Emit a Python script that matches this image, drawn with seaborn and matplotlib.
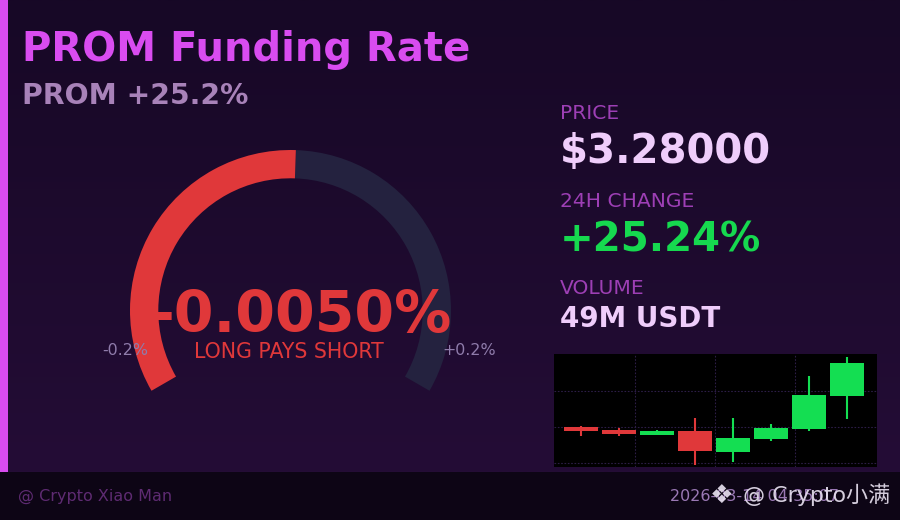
import numpy as np
import pandas as pd
import matplotlib
matplotlib.use("Agg")
import matplotlib.pyplot as plt
import seaborn as sns
from matplotlib.patches import Wedge, Rectangle
from matplotlib.colors import LinearSegmentedColormap

# ---------------- data ----------------
title_text = "PROM Funding Rate"
subtitle_text = "PROM +25.2%"
funding_rate_label = "-0.0050%"
funding_side = "LONG PAYS SHORT"
gauge_min_label = "-0.2%"
gauge_max_label = "+0.2%"
gauge_fill_share = 0.508          # share of the gauge arc that is filled
stat_labels = ["PRICE", "24H CHANGE", "VOLUME"]
stat_values = ["$3.28000", "+25.24%", "49M USDT"]

candle_open = [2.600, 2.567, 2.515, 2.556, 2.326, 2.470, 2.581, 2.948]
candle_close = [2.559, 2.526, 2.556, 2.337, 2.478, 2.589, 2.956, 3.311]
candle_high = [2.611, 2.589, 2.567, 2.700, 2.700, 2.633, 3.167, 3.378]
candle_low = [2.500, 2.503, 2.515, 2.181, 2.215, 2.448, 2.559, 2.692]
grid_x = [1.43, 3.53, 5.64]
grid_y = [2.2, 2.6, 3.0]

footer_left = "@ Crypto Xiao Man"
footer_time = "2026-03-14 04:35:07"
watermark_logo = "\u2756"
watermark_text = "@ Crypto小满"

# ---------------- style ----------------
sns.set_theme(style="dark")
plt.rcParams["font.family"] = ["DejaVu Sans", "Noto Sans CJK SC"]

RED = "#e0383a"
GREEN = "#14de52"
TRACK = "#24223f"
MAGENTA = "#d94cf0"

fig = plt.figure(figsize=(9, 5.2), dpi=100)
bg = fig.add_axes([0, 0, 1, 1])
bg.set_xlim(0, 900)
bg.set_ylim(0, 520)
bg.axis("off")

def Y(p):
    return 520 - p

# background gradient
cmap = LinearSegmentedColormap.from_list("bgc", ["#240d36", "#170826"])
grad = np.linspace(0, 1, 256).reshape(-1, 1)
bg.imshow(grad, extent=[0, 900, Y(472), 520], origin="lower", cmap=cmap,
          aspect="auto", zorder=0)
bg.add_patch(Rectangle((0, 0), 900, Y(472), color="#0d0515", zorder=1, lw=0))
bg.add_patch(Rectangle((0, Y(472)), 8, 472, color=MAGENTA, zorder=1, lw=0))

# titles
bg.text(22, Y(60.5), title_text, color=MAGENTA, fontsize=28.9, fontweight="bold",
        ha="left", va="baseline", zorder=5)
bg.text(22, Y(104.3), subtitle_text, color="#a882b9", fontsize=20.3,
        fontweight="bold", ha="left", va="baseline", zorder=5)

# gauge
cx, cy, r, w = 290.5, Y(310.5), 160.5, 28.3
start_ang, span = 210.0, 240.0
boundary = start_ang - span * gauge_fill_share
bg.add_patch(Wedge((cx, cy), r, start_ang - span, boundary, width=w,
                   facecolor=TRACK, edgecolor="none", zorder=2))
bg.add_patch(Wedge((cx, cy), r, boundary, start_ang, width=w,
                   facecolor=RED, edgecolor="none", zorder=2))
bg.text(302, Y(332), funding_rate_label, color=RED, fontsize=41,
        fontweight="bold", ha="center", va="baseline", zorder=5)
bg.text(289, Y(358.5), funding_side, color=RED, fontsize=14.8,
        ha="center", va="baseline", zorder=5)
bg.text(125, Y(355), gauge_min_label, color="#8f7cab", fontsize=11.4,
        ha="center", va="baseline", zorder=5)
bg.text(469, Y(355), gauge_max_label, color="#8f7cab", fontsize=11.4,
        ha="center", va="baseline", zorder=5)

# right stats
label_y = [119, 206.7, 294.3]
value_y = [163.3, 251.7, 327.3]
value_sizes = [29, 29, 20]
value_colors = ["#efcdfb", "#16d94f", "#efcdfb"]
for lab, val, ly, vy, fs, vc in zip(stat_labels, stat_values, label_y, value_y,
                                    value_sizes, value_colors):
    bg.text(560, Y(ly), lab, color="#9d3fb5", fontsize=14.6, ha="left",
            va="baseline", zorder=5)
    bg.text(560, Y(vy), val, color=vc, fontsize=fs, fontweight="bold",
            ha="left", va="baseline", zorder=5)

# footer
bg.text(18, Y(501), footer_left, color="#5e2b72", fontsize=11.5, ha="left",
        va="baseline", zorder=5)
bg.text(670, Y(501), footer_time, color="#9a78b4", fontsize=11.5, ha="left",
        va="baseline", zorder=5)
bg.text(710, Y(503), watermark_logo, color="#e6dfee", fontsize=19, ha="left",
        va="baseline", zorder=6, alpha=0.92)
bg.text(743, Y(501.5), watermark_text, color="#e6dfee", fontsize=15.9,
        ha="left", va="baseline", zorder=6, alpha=0.92)

# candlestick panel
df = pd.DataFrame({"open": candle_open, "close": candle_close,
                   "high": candle_high, "low": candle_low})
df["idx"] = np.arange(len(df))
df["up"] = df["close"] >= df["open"]
df["color"] = np.where(df["up"], GREEN, RED)
df["bottom"] = df[["open", "close"]].min(axis=1)
df["height"] = (df["close"] - df["open"]).abs()

cax = fig.add_axes([554 / 900, Y(466.7) / 520, 323 / 900, 112.7 / 520])
cax.set_facecolor("#000000")
cax.vlines(df["idx"], df["low"], df["high"], colors=df["color"], lw=1.5,
           zorder=3)
cax.bar(df["idx"], df["height"], bottom=df["bottom"], width=0.92,
        color=df["color"], zorder=4, linewidth=0)
cax.set_xlim(-0.71, 7.79)
cax.set_ylim(2.159, 3.411)
cax.set_xticks(grid_x)
cax.set_yticks(grid_y)
cax.grid(True, color="#2c1d46", linestyle=(0, (1.5, 1.5)), linewidth=0.8)
cax.tick_params(length=0, labelbottom=False, labelleft=False)
for s in cax.spines.values():
    s.set_visible(False)

fig.savefig("out.png", dpi=100)
